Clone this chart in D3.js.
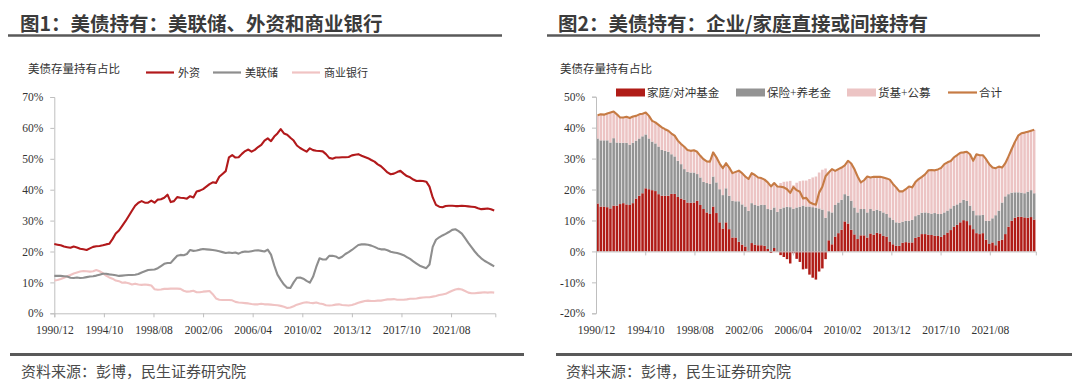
<!DOCTYPE html>
<html><head><meta charset="utf-8">
<script src="https://cdn.jsdelivr.net/npm/d3@7"></script>
<style>
html,body{margin:0;padding:0;background:#fff;}
svg{display:block;}
</style></head>
<body>
<svg id="c" width="1080" height="386"></svg>
<script>
// ---------- data ----------
const startMonth = "1990/12";           // first quarter-end in both series (quarterly)
const endMonthLeft = "2025/01";
const endMonthRight = "2025/03";
const tickLabels = ["1990/12","1994/10","1998/08","2002/06","2006/04","2010/02","2013/12","2017/10","2021/08"];

const leftTitle = "图1：美债持有：美联储、外资和商业银行";
const rightTitle = "图2：美债持有：企业/家庭直接或间接持有";
const subTitle = "美债存量持有占比";
const sourceText = "资料来源：彭博，民生证券研究院";

const leftSeriesNames = ["外资","美联储","商业银行"];
const rightSeriesNames = ["家庭/对冲基金","保险+养老金","货基+公募","合计"];

const leftTicks = [0,10,20,30,40,50,60,70];
const rightTicks = [-20,-10,0,10,20,30,40,50];

// 外资
const foreign = [
22.4,22.2,22.0,21.6,21.4,21.2,21.6,21.3,20.9,20.7,
20.5,21.0,21.5,21.7,21.8,22.0,22.3,22.5,24.0,25.8,
26.8,28.3,29.8,31.5,33.2,34.8,35.8,36.3,35.8,35.8,
36.5,35.8,36.8,36.9,37.4,38.4,36.0,36.3,37.6,37.4,
37.3,37.1,37.9,37.5,39.4,39.7,40.2,41.0,41.8,42.4,
42.2,44.2,45.1,46.0,50.5,51.2,50.4,50.5,51.6,52.5,
53.0,52.3,52.9,53.8,54.5,55.9,56.6,55.7,57.2,58.2,
59.6,58.2,57.8,56.8,55.9,54.3,53.5,52.9,52.3,53.4,
52.8,52.6,52.5,52.4,51.5,50.3,50.0,50.4,50.4,50.5,
50.5,50.6,51.1,51.3,51.5,51.0,50.6,50.2,49.6,49.1,
48.2,47.6,46.6,45.6,45.0,45.2,45.7,46.1,45.2,44.4,
44.0,43.3,42.8,42.9,42.8,42.6,41.0,37.5,35.1,34.5,
34.3,34.7,34.8,34.8,34.7,34.7,34.8,34.7,34.6,34.5,
34.4,34.0,33.7,33.8,33.9,33.7,33.3];
// 美联储
const fed = [
12.1,12.1,12.1,12.0,11.9,11.5,11.4,11.6,11.4,11.5,
11.7,11.9,12.0,12.2,12.5,12.8,12.8,12.6,12.5,12.3,
12.1,12.2,12.3,12.4,12.4,12.5,12.7,13.2,13.6,14.0,
14.1,14.2,14.6,15.3,16.0,16.3,16.3,17.5,18.6,18.9,
18.8,19.2,20.5,20.2,20.3,20.6,20.8,20.7,20.6,20.5,
20.3,20.1,19.8,19.5,19.7,19.5,19.7,19.3,19.8,20.0,
19.9,20.1,20.3,20.4,20.2,20.0,20.6,19.0,15.5,12.5,
10.8,9.3,8.3,8.2,10.0,11.5,11.6,11.2,10.5,9.9,
11.8,15.0,17.8,17.4,17.4,18.6,18.6,18.4,17.8,18.3,
19.2,19.8,20.5,21.3,22.1,22.3,22.3,22.2,21.9,21.5,
21.0,20.7,20.7,20.4,19.9,19.7,19.5,19.2,18.8,18.2,
17.6,16.8,16.1,15.4,15.0,14.6,15.8,21.5,23.8,24.6,
25.2,25.7,26.3,27.0,27.2,26.6,25.8,24.3,22.8,21.4,
20.0,18.8,17.8,17.0,16.4,15.8,15.2];
// 商业银行
const banks = [
10.6,10.8,11.1,11.5,12.0,12.4,12.9,13.2,13.5,13.7,
13.6,13.5,13.6,14.0,13.6,13.0,12.2,11.6,11.2,10.6,
10.4,9.9,10.0,9.7,9.3,9.6,9.3,9.2,9.3,9.2,
9.0,7.8,7.6,7.7,7.9,7.9,8.0,8.0,8.0,7.9,
7.3,7.0,7.1,7.3,6.8,6.8,7.0,7.1,7.2,6.2,
4.8,4.4,4.3,4.3,4.3,4.2,3.7,3.5,3.4,3.3,
3.2,3.0,2.9,2.9,3.1,2.9,2.9,2.8,2.7,2.6,
2.4,2.1,1.7,1.9,2.3,2.8,3.1,3.4,3.6,3.4,
3.3,3.5,3.2,3.0,2.6,2.5,2.6,2.8,2.9,2.7,
2.6,2.5,2.7,3.0,3.4,3.7,4.0,4.1,4.0,4.0,
4.1,4.1,4.3,4.5,4.5,4.6,4.4,4.4,4.4,4.5,
4.7,4.7,4.8,5.0,5.1,5.2,5.2,5.4,5.6,5.9,
6.1,6.3,6.8,7.3,7.7,7.9,7.7,7.2,6.7,6.5,
6.5,6.6,6.7,6.8,6.7,6.8,6.7];

// 家庭/对冲基金
const household = [
15.5,14.5,14.5,14.3,13.9,14.8,14.8,15.3,15.6,15.2,
15.0,15.6,17.1,18.0,18.8,20.4,20.1,19.8,19.5,18.5,
18.0,18.0,18.0,18.6,18.6,17.6,17.1,16.7,15.8,15.7,
15.8,16.4,15.0,13.7,12.6,12.1,14.5,12.4,9.4,7.4,
9.4,7.2,4.5,4.5,3.1,2.2,1.6,0.2,2.7,2.2,
2.0,2.0,1.8,0.8,-0.5,1.1,-0.1,-1.2,-1.8,-2.5,
-3.9,-0.6,-2.4,-3.4,-5.8,-5.6,-7.5,-8.5,-9.1,-6.5,
-5.5,-2.5,3.6,2.3,4.8,5.9,7.0,9.7,9.0,7.0,
5.5,4.0,5.2,5.2,4.5,5.8,5.4,6.0,5.8,5.0,
4.8,3.2,2.3,1.8,1.8,2.8,3.0,2.9,2.9,4.4,
4.7,5.6,5.6,5.4,5.3,5.1,5.0,4.7,5.3,6.1,
6.9,8.0,8.6,9.4,10.1,9.8,8.5,7.2,5.9,5.6,
5.9,3.8,2.4,2.9,2.0,3.4,3.8,5.6,8.0,9.9,
10.9,11.2,11.2,11.0,10.9,11.1,10.3];
// 保险+养老金
const insurance = [
21.0,21.4,21.4,21.6,21.3,21.8,20.4,19.8,19.5,19.9,
19.5,19.5,18.7,18.5,18.4,17.4,16.4,15.7,15.4,15.4,
14.8,14.5,14.2,12.8,12.1,11.7,11.1,9.9,9.9,9.8,
9.7,8.6,8.9,8.8,9.5,9.7,9.7,9.9,10.7,10.8,
11.0,10.8,11.9,11.7,13.1,13.0,12.9,12.9,12.9,12.8,
12.8,13.1,13.2,12.9,13.5,13.1,12.8,13.8,14.2,14.4,
14.3,13.8,14.2,14.4,14.8,14.5,14.5,14.3,14.1,13.9,
13.5,10.9,9.4,10.3,10.2,9.9,9.7,8.8,9.0,9.4,
8.7,8.6,8.5,8.5,8.1,7.9,7.7,7.5,7.3,7.6,
7.3,7.8,7.9,7.6,7.4,6.8,6.9,7.0,7.3,7.0,
7.1,6.9,7.0,7.0,6.9,7.3,7.1,7.4,7.3,7.1,
7.0,6.8,6.6,6.4,6.6,6.5,6.3,6.0,5.8,6.1,
5.9,6.1,7.5,7.8,9.7,9.8,12.0,12.2,10.5,9.1,
8.2,7.9,7.8,7.8,8.4,8.7,8.5];
// 货基+公募
const funds = [
7.5,8.4,8.3,8.7,9.7,8.6,9.1,8.2,8.2,8.4,
8.6,8.5,8.0,7.8,7.3,7.1,7.3,6.7,6.8,7.0,
7.3,7.0,6.8,6.7,6.7,6.5,6.5,7.2,7.1,7.0,
7.2,7.2,7.0,7.3,7.0,7.2,7.8,8.1,8.3,8.7,
8.1,9.1,8.9,9.5,9.9,10.1,9.7,10.3,9.7,9.7,
9.1,8.6,8.2,8.6,8.0,7.9,8.3,8.3,8.3,8.2,
8.5,7.6,8.0,8.3,8.1,8.4,8.9,9.6,10.1,11.6,
12.9,15.9,12.5,14.0,11.0,10.8,10.4,9.3,11.3,12.0,
12.4,11.6,8.6,9.3,11.6,10.2,11.0,10.6,11.0,11.3,
11.5,12.2,11.6,11.3,10.2,9.8,10.2,11.1,10.5,11.0,
11.6,11.6,12.3,13.8,14.1,13.8,14.4,14.9,15.6,15.6,
15.3,15.6,15.9,16.1,15.3,15.9,16.6,16.1,19.7,19.4,
19.3,19.9,18.3,16.4,15.2,14.2,11.3,10.7,12.2,14.1,
16.3,18.3,19.2,19.6,19.4,19.2,20.5];

// ---------- colours ----------
const C = {
  title:"#3b3b3b", rule:"#595959", axis:"#bfbfbf", text:"#333333",
  foreign:"#b2191b", fed:"#8e8e8e", banks:"#f0c3c3",
  household:"#b01c17", insurance:"#939393", funds:"#ecc4c4", total:"#c67b44"
};

const svg = d3.select("#c");
svg.append("rect").attr("width",1080).attr("height",386).attr("fill","#fff");

const parseM = d3.timeParse("%Y/%m");
const fmtM = d3.timeFormat("%Y/%m");
const t0 = parseM(startMonth);
const dates = d3.range(foreign.length).map(i => d3.timeMonth.offset(t0, 3*i));
const tickDates = tickLabels.map(parseM);

const serif = "'Liberation Serif','Times New Roman','Noto Sans CJK SC',serif";
const cjk = "'Noto Sans CJK SC','Noto Sans',sans-serif";
const legendFont = "'Liberation Serif','Noto Sans CJK SC',serif";

function header(x0, ruleX0, ruleX1, title, subX) {
  svg.append("text").attr("x", x0).attr("y", 30.5).text(title)
    .attr("font-family", cjk).attr("font-weight", 700).attr("font-size", 19.5)
    .attr("fill", C.title);
  svg.append("line").attr("x1", ruleX0).attr("x2", ruleX1).attr("y1", 35.5).attr("y2", 35.5)
    .attr("stroke", C.rule).attr("stroke-width", 2.5);
  svg.append("text").attr("x", subX).attr("y", 72.5).text(subTitle)
    .attr("font-family", cjk).attr("font-size", 11.5).attr("fill", C.text);
}
function footer(ruleX0, ruleX1, tx) {
  svg.append("line").attr("x1", ruleX0).attr("x2", ruleX1).attr("y1", 354.5).attr("y2", 354.5)
    .attr("stroke", C.rule).attr("stroke-width", 2.8);
  svg.append("text").attr("x", tx).attr("y", 377).text(sourceText)
    .attr("font-family", cjk).attr("font-size", 15).attr("fill", "#4a4a4a");
}

function styleAxis(g) {
  g.selectAll("path.domain").attr("stroke", C.axis).attr("stroke-width", 1);
  g.selectAll(".tick line").attr("stroke", C.axis);
  g.selectAll("text").attr("font-family", serif).attr("font-size", 11.5).attr("fill", C.text);
}

// ================= LEFT CHART =================
header(20, 8, 502, leftTitle, 28);
footer(10, 524, 21);

const xL = d3.scaleTime().domain([t0, parseM(endMonthLeft)]).range([54.3, 495.3]);
const yL = d3.scaleLinear().domain([0, 70]).range([313.3, 97]);

// y axis
const gyL = svg.append("g").attr("transform", "translate(54.3,0)")
  .call(d3.axisLeft(yL).tickValues(leftTicks).tickSize(4).tickPadding(7).tickFormat(d => d + "%"));
styleAxis(gyL);
// x axis
const gxL = svg.append("g").attr("transform", "translate(0,313.3)")
  .call(d3.axisBottom(xL).tickValues(tickDates).tickSize(4).tickPadding(6).tickFormat(fmtM));
styleAxis(gxL);
gxL.selectAll("text").attr("dy", "0.95em");

const lineL = d3.line().x((d, i) => xL(dates[i])).y(d => yL(d)).curve(d3.curveLinear);
[[banks, C.banks], [fed, C.fed], [foreign, C.foreign]].forEach(([arr, col]) => {
  svg.append("path").datum(arr).attr("d", lineL).attr("fill", "none")
    .attr("stroke", col).attr("stroke-width", 2.1).attr("stroke-linejoin", "round");
});

// legend left
const legL = [[leftSeriesNames[0], C.foreign, 146], [leftSeriesNames[1], C.fed, 213], [leftSeriesNames[2], C.banks, 292]];
legL.forEach(([name, col, lx]) => {
  svg.append("line").attr("x1", lx).attr("x2", lx + 28).attr("y1", 72.5).attr("y2", 72.5)
    .attr("stroke", col).attr("stroke-width", 2.2);
  svg.append("text").attr("x", lx + 32).attr("y", 76.5).text(name)
    .attr("font-family", legendFont).attr("font-size", 11).attr("fill", C.text);
});

// ================= RIGHT CHART =================
header(558, 547, 1040, rightTitle, 560);
footer(556, 1072, 566);

const xR = d3.scaleTime().domain([t0, parseM(endMonthRight)]).range([596, 1035.8]);
const yR = d3.scaleLinear().domain([-20, 50]).range([313.3, 96.7]);

const rows = dates.map((d, i) => ({date: d, household: household[i], insurance: insurance[i], funds: funds[i]}));
const keys = ["household", "insurance", "funds"];
const stack = d3.stack().keys(keys).offset(d3.stackOffsetDiverging);
const layers = stack(rows);
const colors = {household: C.household, insurance: C.insurance, funds: C.funds};

layers.forEach(layer => {
  svg.append("g").selectAll("rect").data(layer).join("rect")
    .attr("x", d => xR(d.data.date) + 0.35)
    .attr("width", d => xR(d3.timeMonth.offset(d.data.date, 3)) - xR(d.data.date) - 0.7)
    .attr("y", d => yR(Math.max(d[0], d[1])))
    .attr("height", d => Math.abs(yR(d[0]) - yR(d[1])))
    .attr("fill", colors[layer.key]);
});

// y axis right
const gyR = svg.append("g").attr("transform", "translate(596,0)")
  .call(d3.axisLeft(yR).tickValues(rightTicks).tickSize(4).tickPadding(7).tickFormat(d => d + "%"));
styleAxis(gyR);
// x axis at zero, labels at bottom
const gxR = svg.append("g").attr("transform", "translate(0," + yR(0) + ")")
  .call(d3.axisBottom(xR).tickValues(tickDates).tickSize(4).tickFormat(""));
styleAxis(gxR);
const gxRl = svg.append("g").attr("transform", "translate(0,313.3)")
  .call(d3.axisBottom(xR).tickValues(tickDates).tickSize(0).tickPadding(10).tickFormat(fmtM));
styleAxis(gxRl);
gxRl.select("path.domain").remove();
gxRl.selectAll("text").attr("dy", "0.95em");

// total line
const totals = rows.map(r => r.household + r.insurance + r.funds);
const lineR = d3.line()
  .x((d, i) => (xR(dates[i]) + xR(d3.timeMonth.offset(dates[i], 3))) / 2)
  .y(d => yR(d));
svg.append("path").datum(totals).attr("d", lineR).attr("fill", "none")
  .attr("stroke", C.total).attr("stroke-width", 2.1).attr("stroke-linejoin", "round");

// legend right
const legR = [
  [rightSeriesNames[0], C.household, 616, "rect"],
  [rightSeriesNames[1], C.insurance, 736, "rect"],
  [rightSeriesNames[2], C.funds, 847, "rect"],
  [rightSeriesNames[3], C.total, 948, "line"]
];
legR.forEach(([name, col, lx, kind]) => {
  if (kind === "rect") {
    svg.append("rect").attr("x", lx).attr("y", 88.5).attr("width", 29).attr("height", 8).attr("fill", col);
  } else {
    svg.append("line").attr("x1", lx).attr("x2", lx + 29).attr("y1", 92.5).attr("y2", 92.5)
      .attr("stroke", col).attr("stroke-width", 2.2);
  }
  svg.append("text").attr("x", lx + 31).attr("y", 96.5).text(name)
    .attr("font-family", legendFont).attr("font-size", 11.5).attr("fill", C.text);
});
</script>
</body></html>
